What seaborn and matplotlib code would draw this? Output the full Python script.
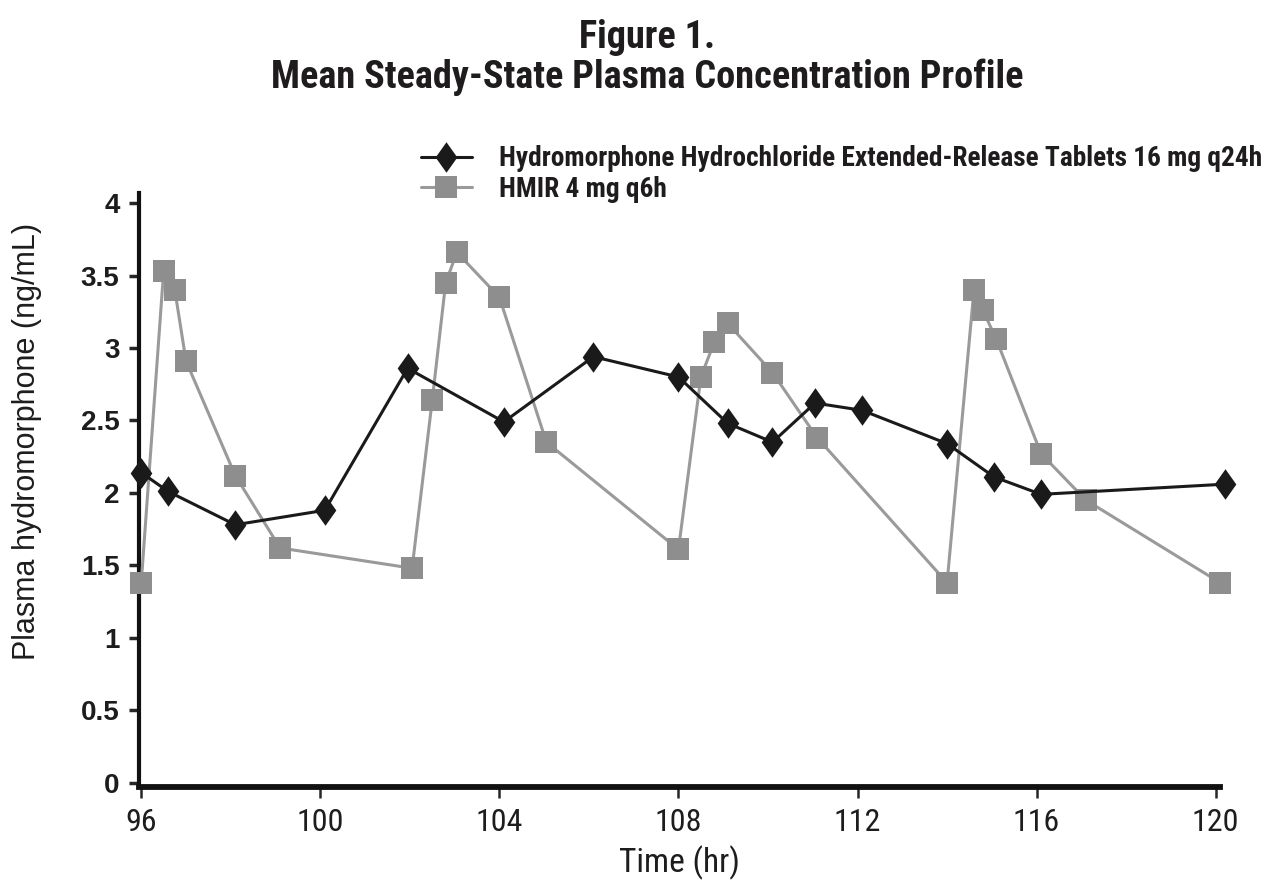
import numpy as np
import pandas as pd
import matplotlib
matplotlib.use("Agg")
import matplotlib.pyplot as plt
import seaborn as sns

# values
er_time = [96.0, 96.6, 98.1, 100.1, 101.95, 104.1, 106.1, 108.0, 109.1, 110.1,
           111.05, 112.1, 114.0, 115.05, 116.1, 120.2]
er_conc = [2.14, 2.01, 1.78, 1.88, 2.86, 2.49, 2.94, 2.80, 2.48, 2.35,
           2.62, 2.57, 2.34, 2.11, 1.99, 2.06]

ir_time = [96.0, 96.5, 96.75, 97.0, 98.1, 99.1, 102.05, 102.5, 102.8, 103.05,
           104.0, 105.05, 108.0, 108.5, 108.8, 109.1, 110.1, 111.1, 114.0,
           114.6, 114.8, 115.1, 116.1, 117.1, 120.1]
ir_conc = [1.38, 3.53, 3.40, 2.91, 2.12, 1.62, 1.48, 2.64, 3.45, 3.66,
           3.35, 2.35, 1.61, 2.80, 3.04, 3.17, 2.83, 2.38, 1.38,
           3.40, 3.26, 3.06, 2.27, 1.95, 1.38]

er_label = "Hydromorphone Hydrochloride Extended-Release Tablets 16 mg q24h"
ir_label = "HMIR 4 mg q6h"
x_ticks = [96, 100, 104, 108, 112, 116, 120]
y_ticks = [0, 0.5, 1, 1.5, 2, 2.5, 3, 3.5, 4]

sns.set_style("white")
narrow = ["Roboto Condensed", "IBM Plex Sans Condensed", "DejaVu Sans"]
plt.rcParams["font.family"] = ["Liberation Sans", "DejaVu Sans"]
ink = "#1e1c1d"

fig = plt.figure(figsize=(12.66, 8.88), dpi=100)
ax = fig.add_axes([0.1098, 0.1137, 0.8540, 0.6690])

# tall thin diamond marker
diamond = [(-0.71, 0), (0, 1), (0.71, 0), (0, -1), (-0.71, 0)]

ir = pd.DataFrame({"time": ir_time, "conc": ir_conc})
er = pd.DataFrame({"time": er_time, "conc": er_conc})

sns.lineplot(data=ir, x="time", y="conc", ax=ax, color="#9a9a9a", lw=2.2,
             marker="s", markersize=15.5, markerfacecolor="#8e8e8e",
             markeredgecolor="#8e8e8e", markeredgewidth=0, label=ir_label,
             clip_on=False, zorder=3)
sns.lineplot(data=er, x="time", y="conc", ax=ax, color="#1a1a1a", lw=2.2,
             marker=diamond, markersize=22, markerfacecolor="#1a1a1a",
             markeredgecolor="#1a1a1a", markeredgewidth=0, label=er_label,
             clip_on=False, zorder=4)

ax.set_xlim(95.95, 120.1)
ax.set_ylim(-0.03, 4.07)
ax.set_xticks(x_ticks)
ax.set_xticklabels([str(t) for t in x_ticks], family=narrow, fontsize=23,
                   color=ink)
ax.set_yticks(y_ticks)
ax.set_yticklabels(["0", "0.5", "1", "1.5", "2", "2.5", "3", "3.5", "4"],
                   fontsize=20, fontweight="bold", color=ink)

for side in ["top", "right"]:
    ax.spines[side].set_visible(False)
ax.spines["left"].set_linewidth(3)
ax.spines["bottom"].set_linewidth(4.2)
ax.spines["left"].set_color("#111111")
ax.spines["bottom"].set_color("#111111")
ax.tick_params(axis="y", direction="out", length=7, width=2.5, pad=7,
               left=True)
ax.tick_params(axis="x", direction="out", length=8, width=1.8, pad=7,
               bottom=True)

ax.set_xlabel("Time (hr)", family=narrow, fontsize=24, color=ink, labelpad=6)
ax.set_ylabel("")
fig.text(0.021, 0.503, "Plasma hydromorphone (ng/mL)", rotation=90,
         ha="center", va="center", fontsize=22, color=ink)

handles, labels = ax.get_legend_handles_labels()
leg = fig.legend(handles[::-1], labels[::-1], loc="upper left",
                 bbox_to_anchor=(0.313, 0.864), frameon=False,
                 prop={"family": narrow, "size": 19.7, "weight": "bold"},
                 handlelength=1.85, handletextpad=1.0, labelspacing=0.12)
for t in leg.get_texts():
    t.set_color(ink)
if ax.get_legend() is not None:
    ax.get_legend().remove()

fig.text(0.511, 0.958, "Figure 1.", ha="center", va="center",
         family=narrow, fontsize=27.5, fontweight="bold", color=ink)
fig.text(0.511, 0.913, "Mean Steady-State Plasma Concentration Profile",
         ha="center", va="center", family=narrow, fontsize=27.5,
         fontweight="bold", color=ink)

fig.savefig("out.png", dpi=100, facecolor="white")
